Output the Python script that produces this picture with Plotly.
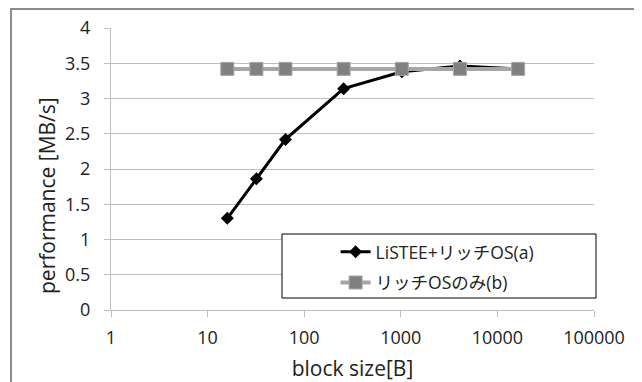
import plotly.graph_objects as go

block_sizes = [16, 32, 64, 256, 1024, 4096, 16384]
listee_perf = [1.30, 1.86, 2.42, 3.14, 3.38, 3.46, 3.42]
rich_only_perf = [3.42, 3.42, 3.42, 3.42, 3.42, 3.42, 3.42]
series_names = ["LiSTEE+リッチOS(a)", "リッチOSのみ(b)"]
x_ticks = [1, 10, 100, 1000, 10000, 100000]
y_ticks = [0, 0.5, 1, 1.5, 2, 2.5, 3, 3.5, 4]
y_tick_text = ["0", "0.5", "1", "1.5", "2", "2.5", "3", "3.5", "4"]
x_title = "block size[B]"
y_title = "performance [MB/s]"

FONT = "'Open Sans', 'Noto Sans CJK JP', sans-serif"

# page body has an 8px default margin; plot area in page coords: x 111..594, y 28..310
W, H = 634, 374
L, T = 103, 20
PW, PH = 483, 282
R, B = W - L - PW, H - T - PH

fig = go.Figure()
fig.add_trace(go.Scatter(
    x=block_sizes, y=listee_perf, name=series_names[0], mode="lines+markers",
    legendgroup="a",
    line=dict(color="black", width=3),
    marker=dict(symbol="diamond", size=10, color="black"),
))
fig.add_trace(go.Scatter(
    x=block_sizes, y=rich_only_perf, name=series_names[1], mode="lines+markers",
    legendgroup="b",
    line=dict(color="#a6a6a6", width=4),
    marker=dict(symbol="square", size=13, color="#808080", line=dict(color="#a6a6a6", width=1)),
))

fig.update_layout(
    width=W, height=H,
    margin=dict(l=L, r=R, t=T, b=B, autoexpand=False),
    paper_bgcolor="white", plot_bgcolor="white",
    font=dict(family=FONT, size=18, color="#222222"),
    showlegend=True,
    legend=dict(x=0.465, y=0.27, xanchor="left", yanchor="top",
                bgcolor="rgba(0,0,0,0)", borderwidth=0,
                traceorder="grouped", tracegroupgap=5,
                font=dict(size=17.5, color="#222222")),
    xaxis=dict(type="log", range=[0, 5], tickvals=x_ticks,
               ticktext=[str(v) for v in x_ticks],
               automargin=False,
               showgrid=False, showline=True, linecolor="#bfbfbf", linewidth=1,
               ticks="outside", ticklen=6, tickcolor="#bfbfbf",
               ticklabelstandoff=5,
               title=dict(text=x_title, font=dict(size=21), standoff=15),
               zeroline=False),
    yaxis=dict(range=[0, 4], tickvals=y_ticks, ticktext=y_tick_text,
               automargin=False,
               showgrid=True, gridcolor="#bfbfbf", gridwidth=1,
               showline=True, linecolor="#bfbfbf", linewidth=1,
               ticks="outside", ticklen=6, tickcolor="#bfbfbf",
               ticklabelstandoff=10,
               zeroline=False),
    annotations=[
        dict(text=y_title, textangle=-90, xref="paper", yref="paper",
             x=(47 - 111) / PW, y=(310 - 196) / PH, xanchor="center", yanchor="middle",
             showarrow=False, font=dict(size=21)),
    ],
    shapes=[
        dict(type="rect", xref="paper", yref="paper",
             x0=(11 - 111) / PW, x1=(636 - 111) / PW,
             y0=(310 - 400) / PH, y1=(310 - 9) / PH,
             line=dict(color="#8c8c8c", width=2), fillcolor="rgba(0,0,0,0)", layer="below"),
        dict(type="rect", xref="paper", yref="paper",
             x0=(282 - 111) / PW, x1=(596 - 111) / PW,
             y0=(310 - 298) / PH, y1=(310 - 234) / PH,
             line=dict(color="black", width=1), fillcolor="white", layer="above"),
    ],
)

fig.write_html("out.html")
